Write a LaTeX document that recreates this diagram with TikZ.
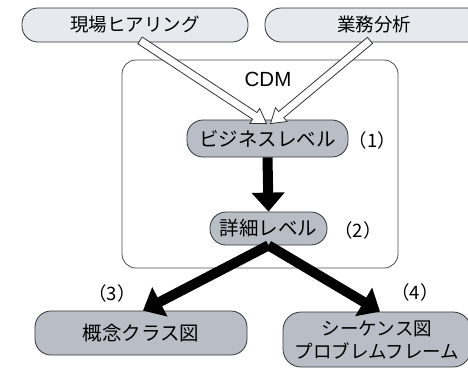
\documentclass[tikz,border=0pt]{standalone}
\usepackage{fontspec}
\setmainfont{Noto Sans CJK JP}
\newfontfamily\latinsans{Liberation Sans}
\usetikzlibrary{arrows.meta,calc}
\definecolor{palefill}{HTML}{E6EAEF}
\definecolor{levelfill}{HTML}{B8BDC6}
\definecolor{outline}{HTML}{333333}

% white outlined arrow from #1 to #2 (shaft and head drawn as one polygon)
\newcommand\hollowarrow[2]{%
  \path ($(#2)!14pt!(#1)$) coordinate (hb);
  \filldraw[fill=white, draw=outline, line width=0.8pt, line join=miter]
    ($(#1)!4pt!90:(#2)$) -- ($(hb)!4pt!90:(#2)$) -- ($(hb)!9pt!90:(#2)$)
    -- (#2) -- ($(hb)!9pt!-90:(#2)$) -- ($(hb)!4pt!-90:(#2)$)
    -- ($(#1)!4pt!-90:(#2)$) -- cycle;}

\begin{document}
\begin{tikzpicture}[x=1pt,y=-1pt,
  pill/.style={draw=outline, line width=0.8pt, inner sep=0pt, align=center,
    font=\fontsize{18.5}{23}\selectfont},
  source/.style={pill, fill=palefill, rounded corners=16pt, minimum height=34pt},
  level/.style={pill, fill=levelfill, rounded corners=16pt,
    font=\fontsize{19.5}{23}\selectfont},
  tag/.style={font=\fontsize{18.5}{20}\selectfont},
  bigarrow/.style={line width=10pt, -{Triangle[width=32pt,length=19pt]}}
]
\clip (0,0) rectangle (468,368);

% sources
\node[source, minimum width=226pt] (hear) at (135,25) {現場ヒアリング};
\node[source, minimum width=218pt] (anal) at (374,25) {業務分析};

% CDM frame
\draw[draw=black!70, line width=0.8pt, rounded corners=14pt] (122,60) rectangle (398,268);
\node[font=\latinsans\fontsize{20.5}{22}\selectfont] (cdm) at (268,79.5) {CDM};

% levels
\node[level, minimum width=161pt, minimum height=37pt] (biz) at (267.5,138.5) {ビジネスレベル};
\node[tag] (l1) at (372.5,140.5) {（1）};
\node[level, minimum width=117pt, minimum height=33pt] (detail) at (268.5,228.5) {詳細レベル};
\node[tag] (l2) at (358,230) {（2）};

% outputs
\node[level, minimum width=212pt, minimum height=44pt] (concept) at (141,333) {概念クラス図};
\node[tag] (l3) at (112,293) {（3）};
\node[level, minimum width=188pt, minimum height=55pt, rounded corners=18pt,
  font=\fontsize{18.5}{23}\selectfont] (seq) at (377,339.5) {シーケンス図\\プロブレムフレーム};
\node[tag] (l4) at (415,292) {（4）};

% inputs into the business level
\coordinate (hs) at ($(hear.south)+(5,-2)$);
\coordinate (ht) at ($(biz.north)+(-1,4)$);
\coordinate (as) at ($(anal.south)+(-4,-2)$);
\coordinate (at) at ($(biz.north)+(3,4)$);
\hollowarrow{hs}{ht}
\hollowarrow{as}{at}

% refinement flow
\draw[bigarrow] (biz.south) -- (detail.north);
\draw[bigarrow] (detail.south) -- ($(concept.north)+(2,0)$);
\draw[bigarrow] (detail.south) -- ($(seq.north)+(3,0)$);
\end{tikzpicture}
\end{document}
